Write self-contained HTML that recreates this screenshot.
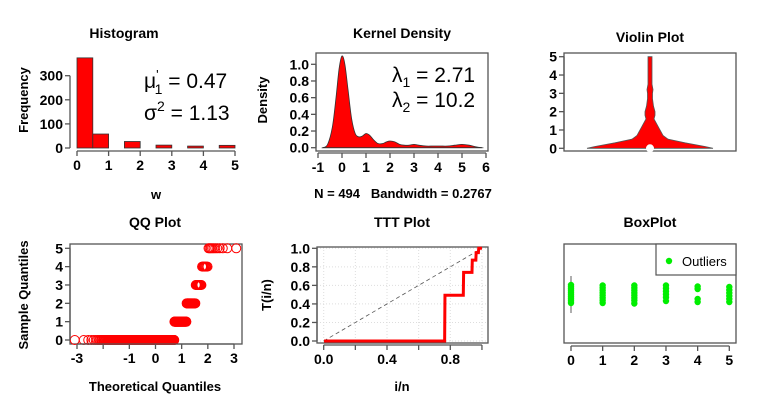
<!DOCTYPE html>
<html><head><meta charset="utf-8"><style>
html,body{margin:0;padding:0;background:#fff;}
svg{display:block;font-family:"Liberation Sans",Arial,sans-serif;}
.t{font-weight:bold;font-size:14px;text-anchor:middle;}
.ax{font-weight:bold;font-size:13px;}
.tk{font-weight:bold;font-size:14px;}
</style></head><body>
<svg id="s" width="768" height="411" viewBox="0 0 768 411" xmlns="http://www.w3.org/2000/svg"></svg>
<script>
// ---------- data ----------
const values = [0,1,2,3,4,5];
const counts = [376,58,27,12,8,11];
const histBreaks = [0,0.5,1,1.5,2,2.5,3,3.5,4,4.5,5];
const histFreq = [374,58,0,27,0,12,0,8,0,11];
const densX = [-0.8,-0.6,-0.4,-0.25,-0.12,0,0.12,0.25,0.4,0.55,0.7,0.85,1.0,1.15,1.3,1.5,1.7,1.85,2.0,2.2,2.4,2.6,2.8,3.0,3.2,3.5,3.8,4.1,4.4,4.7,5.0,5.3,5.6,5.85];
const densY = [0,0.04,0.25,0.6,0.95,1.1,1.0,0.7,0.35,0.17,0.13,0.14,0.17,0.15,0.1,0.05,0.05,0.07,0.08,0.07,0.04,0.03,0.03,0.04,0.03,0.02,0.02,0.02,0.02,0.03,0.04,0.03,0.01,0];
const violinV = [0,0.1,0.3,0.5,0.7,1.0,1.3,1.6,1.8,2.0,2.3,2.7,3.0,3.2,3.5,4.0,5.0];
const violinW = [63,55,35,18,13,10,7,4,5,5,3.5,2.5,2.5,3,2,2,2];
const boxJitter = [
 [-0.9,-0.7,-0.5,-0.3,-0.1,0.1,0.3,0.5,0.7,0.9],
 [-0.85,-0.6,-0.35,-0.1,0.15,0.4,0.65,0.9],
 [-0.85,-0.6,-0.35,-0.1,0.15,0.4,0.65,0.95],
 [-0.85,-0.55,-0.25,0.05,0.35,0.7],
 [-0.75,-0.5,0.5,0.8],
 [-0.7,-0.4,-0.1,0.2,0.5,0.8]
];
const statText1 = "0.47", statText2 = "1.13", lam1 = "2.71", lam2 = "10.2";

// ---------- helpers ----------
const S = document.getElementById('s');
const NS = "http://www.w3.org/2000/svg";
function el(tag, at, txt){const e=document.createElementNS(NS,tag);for(const k in at)e.setAttribute(k,at[k]);if(txt!==undefined)e.textContent=txt;S.appendChild(e);return e;}
function lin(d0,d1,p0,p1){return v=>p0+(v-d0)*(p1-p0)/(d1-d0);}
function text(x,y,s,cls,name,extra){const e=el('text',Object.assign({x:x,y:y,class:cls},extra||{}),s);return e;}
function box(x0,y0,x1,y1,name){const e=el('rect',{x:x0,y:y0,width:x1-x0,height:y1-y0,fill:'none',stroke:'#555','stroke-width':1.3});}
function xAxis(sx,ticks,labels,y,name){el('line',{x1:sx(ticks[0]),x2:sx(ticks[ticks.length-1]),y1:y,y2:y,stroke:'#555','stroke-width':1.3});
 ticks.forEach((t,i)=>{el('line',{x1:sx(t),x2:sx(t),y1:y,y2:y+5,stroke:'#555','stroke-width':1.3});if(labels[i]!==''){text(sx(t),y+19,labels[i],'tk',name+'-tick',{'text-anchor':'middle'});}});}
function yAxis(sy,ticks,labels,x,name){el('line',{x1:x,x2:x,y1:sy(ticks[0]),y2:sy(ticks[ticks.length-1]),stroke:'#555','stroke-width':1.3});
 ticks.forEach((t,i)=>{el('line',{x1:x,x2:x-5,y1:sy(t),y2:sy(t),stroke:'#555','stroke-width':1.3});text(x-7,sy(t)+5,labels[i],'tk',name+'-tick',{'text-anchor':'end'});});}
function ytitle(x,y,s,name){text(x,y,s,'ax',name,{'text-anchor':'middle',transform:`rotate(-90 ${x} ${y})`});}

// ---------- expand data ----------
const data=[];values.forEach((v,i)=>{for(let k=0;k<counts[i];k++)data.push(v);});
const n=data.length;
function qnorm(p){const a=[-39.6968302866538,220.946098424521,-275.928510446969,138.357751867269,-30.6647980661472,2.50662827745924],b=[-54.4760987982241,161.585836858041,-155.698979859887,66.8013118877197,-13.2806815528857],c=[-0.00778489400243029,-0.322396458041136,-2.40075827716184,-2.54973253934373,4.37466414146497,2.93816398269878],d=[0.00778469570904146,0.32246712907004,2.445134137143,3.75440866190742];
 let q,r;if(p<0.02425){q=Math.sqrt(-2*Math.log(p));return(((((c[0]*q+c[1])*q+c[2])*q+c[3])*q+c[4])*q+c[5])/((((d[0]*q+d[1])*q+d[2])*q+d[3])*q+1);}
 if(p>1-0.02425){q=Math.sqrt(-2*Math.log(1-p));return-(((((c[0]*q+c[1])*q+c[2])*q+c[3])*q+c[4])*q+c[5])/((((d[0]*q+d[1])*q+d[2])*q+d[3])*q+1);}
 q=p-0.5;r=q*q;return(((((a[0]*r+a[1])*r+a[2])*r+a[3])*r+a[4])*r+a[5])*q/(((((b[0]*r+b[1])*r+b[2])*r+b[3])*r+b[4])*r+1);}

// ---------- Histogram ----------
{const sx=lin(0,5,77,235), sy=lin(0,300,148,75.7);
 text(124,38,'Histogram','t','histogram-title');
 for(let i=0;i<histFreq.length;i++){if(histFreq[i]<=0)continue;const r=el('rect',{x:sx(histBreaks[i]),y:sy(histFreq[i]),width:sx(histBreaks[i+1])-sx(histBreaks[i]),height:sy(0)-sy(histFreq[i]),fill:'#ff0000',stroke:'#333','stroke-width':0.8});
  }
 xAxis(sx,[0,1,2,3,4,5],['0','1','2','3','4','5'],151,'hist-x');
 yAxis(sy,[0,100,200,300],['0','100','200','300'],70,'hist-y');
 ytitle(28,100,'Frequency','hist-y-title');
 text(156,199,'w','ax','hist-x-title',{'text-anchor':'middle'});
 const g=el('text',{x:144,y:88,'font-size':21});
 g.innerHTML=`μ<tspan dy="-9" font-size="13">'</tspan><tspan dx="-4" dy="15" font-size="14">1</tspan><tspan dy="-6"> = ${statText1}</tspan>`;
 const h=el('text',{x:144,y:120,'font-size':21});
 h.innerHTML=`σ<tspan dy="-9" font-size="14">2</tspan><tspan dy="9"> = ${statText2}</tspan>`;}

// ---------- Kernel Density ----------
{const sx=lin(-1,6,318,486), sy=lin(0,1,147.7,64.3);
 text(402,38,'Kernel Density','t','density-title');
 box(316,53,488,151,'density-frame');
 el('line',{x1:sx(-0.85),x2:sx(5.9),y1:sy(0),y2:sy(0),stroke:'#999','stroke-width':1});
 const P=densX.map((x,i)=>[sx(x),sy(densY[i])]);
 let d=`M${P[0][0]},${sy(0)}L${P[0][0]},${P[0][1]}`;
 for(let i=0;i<P.length-1;i++){const p0=P[Math.max(0,i-1)],p1=P[i],p2=P[i+1],p3=P[Math.min(P.length-1,i+2)];
  d+=`C${p1[0]+(p2[0]-p0[0])/6},${p1[1]+(p2[1]-p0[1])/6} ${p2[0]-(p3[0]-p1[0])/6},${p2[1]-(p3[1]-p1[1])/6} ${p2[0]},${p2[1]}`;}
 d+=`L${P[P.length-1][0]},${sy(0)}Z`;
 const p=el('path',{d:d,fill:'#ff0000',stroke:'#333','stroke-width':0.8});
 xAxis(sx,[-1,0,1,2,3,4,5,6],['-1','0','1','2','3','4','5','6'],153,'density-x');
 yAxis(sy,[0,0.2,0.4,0.6,0.8,1.0],['0.0','0.2','0.4','0.6','0.8','1.0'],316,'density-y');
 ytitle(267,100,'Density','density-y-title');
 text(403,198,'N = 494   Bandwidth = 0.2767','ax','density-x-title',{'text-anchor':'middle',style:'white-space:pre'});
 const a=el('text',{x:392,y:82,'font-size':21});
 a.innerHTML=`λ<tspan dy="5" font-size="14">1</tspan><tspan dy="-5"> = ${lam1}</tspan>`;
 const b=el('text',{x:392,y:107,'font-size':21});
 b.innerHTML=`λ<tspan dy="5" font-size="14">2</tspan><tspan dy="-5"> = ${lam2}</tspan>`;}

// ---------- Violin ----------
{const sy=lin(0,5,148.3,56.7), cx=650;
 text(650,42,'Violin Plot','t','violin-title');
 box(564,53,736,151,'violin-frame');
 let L='',R='';violinV.forEach((v,i)=>{R+=`L${cx+violinW[i]},${sy(v)}`;});
 for(let i=violinV.length-1;i>=0;i--)L+=`L${cx-violinW[i]},${sy(violinV[i])}`;
 const p=el('path',{d:`M${cx},${sy(0)}${R}${L}Z`,fill:'#ff0000',stroke:'#555','stroke-width':0.8});
 const c=el('circle',{cx:cx,cy:sy(0),r:4,fill:'#fff'});
 yAxis(sy,[0,1,2,3,4,5],['0','1','2','3','4','5'],564,'violin-y');}

// ---------- QQ ----------
{const sx=lin(-3,3,77,234), sy=lin(0,5,340,248.3);
 text(155,227,'QQ Plot','t','qq-title');
 box(70,244,242,344,'qq-frame');
 data.forEach((v,i)=>{const q=qnorm((i+1-0.5)/n);const c=el('circle',{cx:sx(q),cy:sy(v),r:4.5,fill:'none',stroke:'#ff0000','stroke-width':1});});
 xAxis(sx,[-3,-2,-1,0,1,2,3],['-3','','-1','0','1','2','3'],344,'qq-x');
 yAxis(sy,[0,1,2,3,4,5],['0','1','2','3','4','5'],70,'qq-y');
 ytitle(28,295,'Sample Quantiles','qq-y-title');
 text(155,391,'Theoretical Quantiles','ax','qq-x-title',{'text-anchor':'middle'});}

// ---------- TTT ----------
{const sx=lin(0,0.8,323.7,450.3), sy=lin(0,1,341,248.3);
 text(402,227,'TTT Plot','t','ttt-title');
 [0,0.2,0.4,0.6,0.8,1].forEach(t=>{el('line',{x1:sx(t),x2:sx(t),y1:247,y2:343,stroke:'#ddd','stroke-dasharray':'1,2'});el('line',{x1:317,x2:488,y1:sy(t),y2:sy(t),stroke:'#ddd','stroke-dasharray':'1,2'});});
 box(317,247,488,343,'ttt-frame');
 el('line',{x1:sx(0),y1:sy(0),x2:sx(1),y2:sy(1),stroke:'#555','stroke-dasharray':'4,3','stroke-width':0.8});
 const tot=data.reduce((a,b)=>a+b,0);let cum=0,d='';
 data.forEach((v,i)=>{cum+=v;const T=(cum+(n-i-1)*v)/tot;d+=(i?'L':'M')+sx((i+1)/n)+','+sy(T);});
 const p=el('path',{d:d,fill:'none',stroke:'#ff0000','stroke-width':3});
 xAxis(sx,[0,0.2,0.4,0.6,0.8,1],['0.0','','0.4','','0.8',''],345,'ttt-x');
 yAxis(sy,[0,0.2,0.4,0.6,0.8,1],['0.0','0.2','0.4','0.6','0.8','1.0'],317,'ttt-y');
 ytitle(271,295,'T(i/n)','ttt-y-title');
 text(402,391,'i/n','ax','ttt-x-title',{'text-anchor':'middle'});}

// ---------- BoxPlot ----------
{const sx=lin(0,5,571,729.3), yc=294, js=10;
 text(650,227,'BoxPlot','t','boxplot-title');
 box(564,244,736,343,'boxplot-frame');
 el('line',{x1:sx(0),x2:sx(0),y1:276,y2:313,stroke:'#777','stroke-width':1.2});
 boxJitter.forEach((col,i)=>col.forEach(j=>{const c=el('circle',{cx:sx(values[i]),cy:yc+j*js,r:3.2,fill:'#00ee00'});}));
 xAxis(sx,[0,1,2,3,4,5],['0','1','2','3','4','5'],346,'box-x');
 const lg=el('rect',{x:656,y:244,width:80,height:31,fill:'#fff',stroke:'#555','stroke-width':1.2});
 const ld=el('circle',{cx:669,cy:261,r:3.2,fill:'#00ee00'});
 const lt=el('text',{x:682,y:266,'font-size':13},'Outliers');}
</script>
</body></html>
